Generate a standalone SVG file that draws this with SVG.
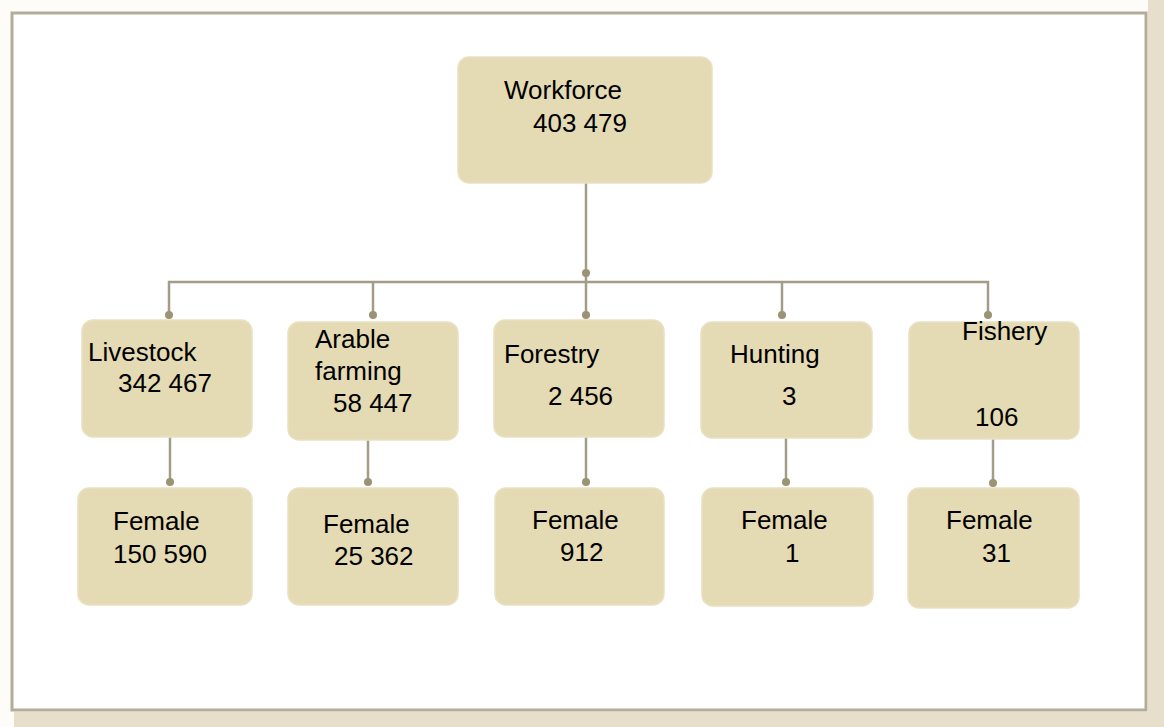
<svg xmlns="http://www.w3.org/2000/svg" width="1164" height="727" viewBox="0 0 1164 727">
<style>
.bg{fill:#fdfcf8}
.shadow{fill:#e7dfcc}
.frame{fill:#ffffff;stroke:#b3ac98;stroke-width:3}
.box{fill:#e4dab3;stroke:#e9e1c3;stroke-width:1.5}
.t{font-family:"Liberation Sans",Arial,sans-serif;font-size:26px;fill:#000}
.ln{stroke:#a29c89;stroke-width:2.5;fill:none}
.dot{fill:#9c9274}
</style>
<rect class="bg" x="0" y="0" width="1164" height="727"/>
<rect class="shadow" x="14" y="712" width="1150" height="15"/>
<rect class="shadow" x="1148" y="0" width="16" height="727"/>
<rect class="frame" x="12" y="13" width="1134" height="697"/>

<g id="connectors">
<line class="ln" x1="586" y1="183" x2="586" y2="272"/>
<polyline class="ln" points="169,315 169,282 988,282 988,315"/>
<line class="ln" x1="373" y1="282" x2="373" y2="315"/>
<line class="ln" x1="586" y1="272" x2="586" y2="315"/>
<line class="ln" x1="782" y1="282" x2="782" y2="315"/>
<circle class="dot" cx="586" cy="273" r="4"/>
<circle class="dot" cx="169" cy="315" r="4"/>
<circle class="dot" cx="373" cy="315" r="4"/>
<circle class="dot" cx="586" cy="315" r="4"/>
<circle class="dot" cx="782" cy="315" r="4"/>
<circle class="dot" cx="988" cy="315" r="4"/>
<line class="ln" x1="170" y1="437" x2="170" y2="482"/>
<line class="ln" x1="368" y1="440" x2="368" y2="482"/>
<line class="ln" x1="586" y1="437" x2="586" y2="482"/>
<line class="ln" x1="786" y1="438" x2="786" y2="482"/>
<line class="ln" x1="993" y1="439" x2="993" y2="483"/>
<circle class="dot" cx="170" cy="482" r="4"/>
<circle class="dot" cx="368" cy="482" r="4"/>
<circle class="dot" cx="586" cy="482" r="4"/>
<circle class="dot" cx="786" cy="482" r="4"/>
<circle class="dot" cx="993" cy="483" r="4"/>
</g>

<g id="workforce">
<rect class="box" x="458" y="57" width="254" height="126" rx="11"/>
<text class="t" x="504" y="99">Workforce</text>
<text class="t" x="533" y="132">403 479</text>
</g>

<g id="livestock">
<rect class="box" x="82" y="320" width="170" height="117" rx="11"/>
<text class="t" x="88" y="361">Livestock</text>
<text class="t" x="118" y="392">342 467</text>
</g>
<g id="arable">
<rect class="box" x="288" y="322" width="170" height="118" rx="11"/>
<text class="t" x="315" y="348">Arable</text>
<text class="t" x="315" y="380">farming</text>
<text class="t" x="333" y="412">58 447</text>
</g>
<g id="forestry">
<rect class="box" x="494" y="320" width="170" height="117" rx="11"/>
<text class="t" x="504" y="363">Forestry</text>
<text class="t" x="548" y="405">2 456</text>
</g>
<g id="hunting">
<rect class="box" x="701" y="322" width="171" height="116" rx="11"/>
<text class="t" x="730" y="363">Hunting</text>
<text class="t" x="782" y="405">3</text>
</g>
<g id="fishery">
<rect class="box" x="909" y="322" width="170" height="117" rx="11"/>
<text class="t" x="962" y="340">Fishery</text>
<text class="t" x="975" y="426">106</text>
</g>

<g id="female-livestock">
<rect class="box" x="78" y="488" width="174" height="117" rx="11"/>
<text class="t" x="113" y="530">Female</text>
<text class="t" x="113" y="563">150 590</text>
</g>
<g id="female-arable">
<rect class="box" x="288" y="488" width="170" height="117" rx="11"/>
<text class="t" x="323" y="533">Female</text>
<text class="t" x="334" y="565">25 362</text>
</g>
<g id="female-forestry">
<rect class="box" x="495" y="488" width="169" height="117" rx="11"/>
<text class="t" x="532" y="529">Female</text>
<text class="t" x="560" y="561">912</text>
</g>
<g id="female-hunting">
<rect class="box" x="702" y="488" width="171" height="118" rx="11"/>
<text class="t" x="741" y="529">Female</text>
<text class="t" x="785" y="562">1</text>
</g>
<g id="female-fishery">
<rect class="box" x="908" y="488" width="171" height="120" rx="11"/>
<text class="t" x="946" y="529">Female</text>
<text class="t" x="982" y="562">31</text>
</g>
</svg>
